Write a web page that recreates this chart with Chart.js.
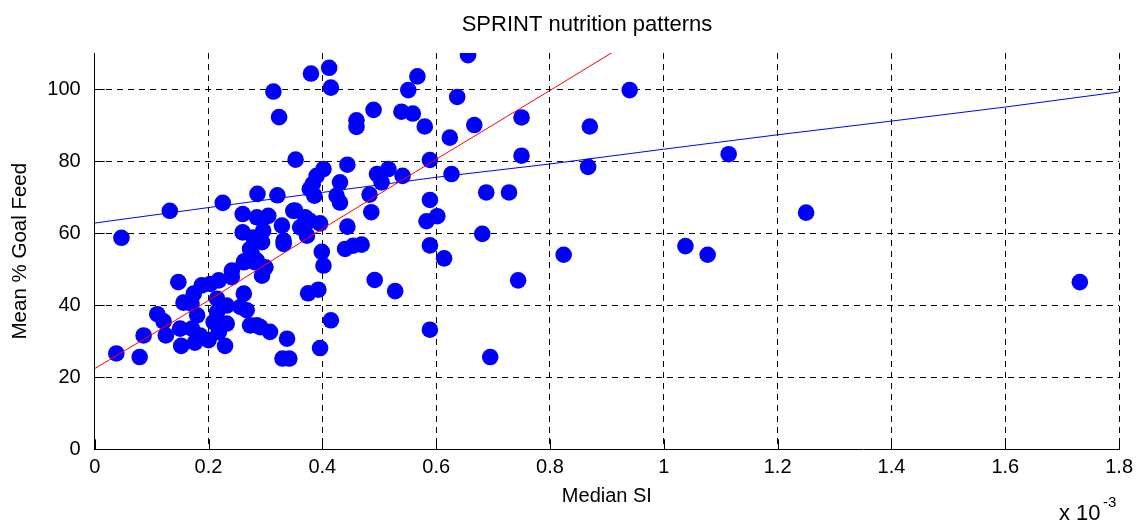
<!DOCTYPE html>
<html lang="en">
<head>
    <meta charset="UTF-8">
    <title>SPRINT nutrition patterns</title>
    <script src="https://cdn.jsdelivr.net/npm/chart.js"></script>
    <style>
        body { margin: 0; background: #fff; }
        .chart-container { width: 1139px; height: 521px; }
    </style>
</head>
<body>
<div class="chart-container"><canvas id="chart"></canvas></div>
<script>
    // Median SI values (units of 1e-3) and mean % goal feed, one entry per patient
    const medianSI = [
        0.038, 0.079, 0.047, 0.086, 0.110, 0.121, 0.125, 0.132, 0.147, 0.156,
        0.152, 0.150, 0.171, 0.185, 0.176, 0.200, 0.229, 0.174, 0.188, 0.203,
        0.218, 0.241, 0.215, 0.232, 0.256, 0.267, 0.215, 0.180, 0.209, 0.232,
        0.273, 0.285, 0.218, 0.262, 0.294, 0.262, 0.276, 0.294, 0.332, 0.308,
        0.338, 0.330, 0.342, 0.291, 0.225, 0.260, 0.285, 0.260, 0.279, 0.273,
        0.263, 0.282, 0.241, 0.286, 0.321, 0.305, 0.349, 0.370, 0.329, 0.332,
        0.296, 0.285, 0.300, 0.352, 0.378, 0.361, 0.373, 0.396, 0.444, 0.399,
        0.402, 0.440, 0.454, 0.469, 0.375, 0.393, 0.415, 0.396, 0.314, 0.324,
        0.353, 0.380, 0.412, 0.415, 0.402, 0.390, 0.383, 0.378, 0.386, 0.444,
        0.431, 0.425, 0.431, 0.460, 0.460, 0.490, 0.483, 0.486, 0.496, 0.516,
        0.504, 0.541, 0.492, 0.528, 0.539, 0.559, 0.551, 0.567, 0.580, 0.589,
        0.589, 0.602, 0.583, 0.589, 0.614, 0.589, 0.624, 0.627, 0.637, 0.656,
        0.667, 0.681, 0.688, 0.728, 0.695, 0.744, 0.750, 0.750, 0.824, 0.867,
        0.870, 0.940, 1.038, 1.077, 1.114, 1.250, 1.731, 0.170
    ];
    const meanGoalFeed = [
        26.6, 25.6, 58.7, 31.6, 37.5, 35.5, 31.6, 66.2, 46.4, 40.7,
        28.7, 33.5, 33.5, 31.6, 29.6, 30.3, 28.7, 43.2, 45.5, 45.9,
        46.9, 47.8, 41.8, 39.9, 39.5, 38.6, 38.1, 37.2, 35.3, 34.9,
        34.4, 34.4, 32.5, 43.2, 48.2, 51.9, 54.2, 57.5, 57.0, 32.6,
        30.7, 25.2, 25.2, 33.9, 68.4, 65.3, 64.4, 60.2, 58.8, 55.6,
        52.2, 51.9, 49.6, 70.9, 70.5, 64.8, 66.2, 64.4, 62.1, 57.9,
        60.7, 52.4, 50.5, 66.3, 63.4, 61.6, 59.3, 62.7, 61.8, 54.8,
        51.0, 55.6, 56.5, 56.8, 43.3, 44.3, 35.8, 28.1, 99.3, 92.2,
        80.4, 104.3, 105.9, 100.4, 77.8, 75.9, 73.6, 72.2, 70.4, 79.0,
        74.1, 70.4, 68.5, 91.3, 89.5, 94.2, 70.7, 65.8, 76.4, 77.8,
        74.1, 75.9, 47.0, 43.9, 93.7, 93.2, 99.7, 103.5, 89.6, 80.3,
        69.2, 64.7, 63.3, 56.6, 53.0, 33.2, 86.5, 76.4, 97.8, 109.4,
        90.0, 59.8, 71.3, 71.3, 25.6, 46.9, 92.1, 81.5, 54.0, 78.4,
        89.6, 99.7, 56.4, 54.0, 81.9, 65.7, 46.4, 40.4
    ];

    // fitted trend lines
    const blueFitX = [0, 0.2, 0.4, 0.6, 0.8, 1.0, 1.2, 1.4, 1.6, 1.8];
    const blueFitY = [62.8, 67.1, 71.3, 75.5, 79.2, 83.3, 87.3, 91.1, 95.0, 99.2];
    const redFitX = [0, 0.2, 0.4, 0.6, 0.8, 0.91];
    const redFitY = [22.4, 41.3, 61.2, 80.5, 99.6, 110.2];

    const xTicks = [0, 0.2, 0.4, 0.6, 0.8, 1, 1.2, 1.4, 1.6, 1.8];
    const xTickLabels = ['0', '0.2', '0.4', '0.6', '0.8', '1', '1.2', '1.4', '1.6', '1.8'];
    const yTicks = [0, 20, 40, 60, 80, 100];

    const FONT = "'Liberation Sans', Arial, Helvetica, sans-serif";
    Chart.defaults.font.family = FONT;
    Chart.defaults.color = '#000';

    const zip = (xs, ys) => xs.map((x, i) => ({x: x, y: ys[i]}));

    // title, MATLAB style inward tick marks and the exponent label
    const axesExtras = {
        id: 'axesExtras',
        afterDraw(chart) {
            const ctx = chart.ctx;
            const xs = chart.scales.x, ys = chart.scales.y;
            const area = chart.chartArea;
            ctx.save();
            ctx.strokeStyle = '#000';
            ctx.lineWidth = 1;
            ctx.beginPath();
            xTicks.forEach(v => {
                const px = Math.round(xs.getPixelForValue(v)) + 0.5;
                ctx.moveTo(px, area.bottom);
                ctx.lineTo(px, area.bottom - 10);
            });
            yTicks.forEach(v => {
                const py = Math.round(ys.getPixelForValue(v)) + 0.5;
                ctx.moveTo(area.left, py);
                ctx.lineTo(area.left + 10, py);
            });
            ctx.stroke();

            ctx.fillStyle = '#000';
            ctx.textAlign = 'center';
            ctx.textBaseline = 'middle';
            ctx.font = '22px ' + FONT;
            ctx.fillText('SPRINT nutrition patterns', 587, 25);

            ctx.textBaseline = 'alphabetic';
            ctx.textAlign = 'left';
            ctx.font = '22px ' + FONT;
            ctx.fillText('x 10', 1059, 520);
            ctx.font = '15px ' + FONT;
            ctx.fillText('-3', 1103, 507);
            ctx.restore();
        }
    };

    const ctx = document.getElementById('chart').getContext('2d');
    new Chart(ctx, {
        type: 'scatter',
        data: {
            datasets: [
                {
                    label: 'fit 2',
                    data: zip(redFitX, redFitY),
                    showLine: true,
                    borderColor: '#ff0000',
                    borderWidth: 1,
                    pointRadius: 0,
                    order: 0
                },
                {
                    label: 'patients',
                    data: zip(medianSI, meanGoalFeed),
                    backgroundColor: '#0000ff',
                    borderWidth: 0,
                    pointRadius: 8.3,
                    order: 1
                },
                {
                    label: 'fit 1',
                    data: zip(blueFitX, blueFitY),
                    showLine: true,
                    borderColor: '#0000ff',
                    borderWidth: 1,
                    pointRadius: 0,
                    order: 2
                }
            ]
        },
        options: {
            responsive: true,
            maintainAspectRatio: false,
            animation: false,
            layout: { padding: { left: 0, right: 18.7, top: 53, bottom: 0 } },
            plugins: {
                legend: { display: false },
                tooltip: { enabled: false },
                title: { display: false }
            },
            scales: {
                x: {
                    type: 'linear',
                    min: 0,
                    max: 1.8,
                    afterBuildTicks: s => { s.ticks = xTicks.map(v => ({value: v})); },
                    afterFit: s => { s.height = 71.7; },
                    ticks: {
                        callback: (v, i) => xTickLabels[i],
                        font: { size: 20 },
                        color: '#000',
                        padding: 6,
                        maxRotation: 0
                    },
                    grid: { color: '#000', lineWidth: 1, drawTicks: false },
                    border: { display: true, color: '#000', width: 1, dash: [6, 5] },
                    title: {
                        display: true,
                        text: 'Median SI',
                        font: { size: 20 },
                        color: '#000',
                        padding: { top: 0, bottom: 13 }
                    }
                },
                y: {
                    type: 'linear',
                    min: 0,
                    max: 110,
                    afterBuildTicks: s => { s.ticks = yTicks.map(v => ({value: v})); },
                    afterFit: s => { s.width = 94.7; },
                    ticks: {
                        font: { size: 20 },
                        color: '#000',
                        padding: 14
                    },
                    grid: { color: '#000', lineWidth: 1, drawTicks: false },
                    border: { display: true, color: '#000', width: 1, dash: [6, 5] },
                    title: {
                        display: true,
                        text: 'Mean % Goal Feed',
                        font: { size: 20.5 },
                        color: '#000',
                        padding: { top: 8, bottom: 0 }
                    }
                }
            }
        },
        plugins: [axesExtras]
    });
</script>
</body>
</html>
